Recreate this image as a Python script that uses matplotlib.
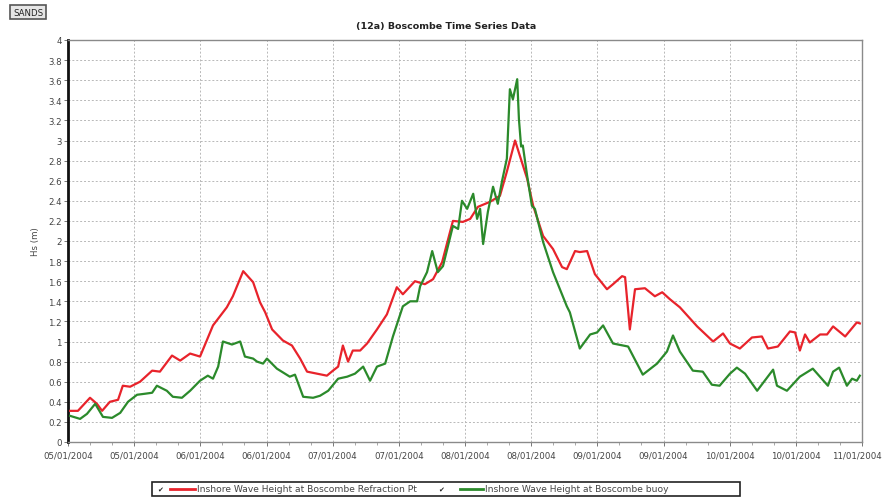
import matplotlib
matplotlib.use("Agg")
import matplotlib.pyplot as plt
import matplotlib.transforms as mtransforms
from matplotlib.lines import Line2D
from matplotlib.patches import Rectangle
from matplotlib.ticker import MultipleLocator, FixedLocator, FuncFormatter

# Days since 05/01/2004 and significant wave height (m)
refraction_days = [0.5, 2.3, 5.1, 6.7, 7.9, 9.7, 11.6, 12.7, 14.4, 16.7, 19.5, 21.3,
                   24.1, 26.0, 28.3, 30.6, 33.6, 36.8, 38.2, 40.6, 42.9, 44.5, 45.7,
                   47.3, 49.8, 51.9, 53.8, 55.4, 57.7, 60.0, 61.4, 62.6, 63.7, 64.9,
                   66.0, 67.7, 69.3, 71.6, 73.9, 76.2, 77.6, 80.4, 82.7, 84.6, 86.7,
                   89.2, 91.5, 93.2, 95.0, 97.8, 100.1, 101.7, 103.6, 104.7, 106.4,
                   107.8, 110.1, 112.4, 114.5, 115.6, 117.5, 118.6, 120.3, 122.1,
                   124.9, 126.3, 128.4, 129.1, 130.2, 131.4, 133.7, 136.0, 137.7,
                   139.5, 141.8, 145.8, 149.5, 151.8, 153.4, 155.7, 158.5, 160.8,
                   162.2, 164.5, 167.3, 168.5, 169.6, 170.8, 171.9, 174.3, 175.9,
                   177.3, 180.1, 182.8, 183.5]
refraction_hs = [0.31, 0.31, 0.44, 0.38, 0.31, 0.40, 0.42, 0.56, 0.55, 0.60, 0.71, 0.70,
                 0.86, 0.81, 0.88, 0.85, 1.16, 1.34, 1.45, 1.70, 1.59, 1.39, 1.29,
                 1.12, 1.01, 0.96, 0.83, 0.70, 0.68, 0.66, 0.71, 0.75, 0.96, 0.80,
                 0.91, 0.91, 0.98, 1.12, 1.27, 1.54, 1.47, 1.60, 1.57, 1.62, 1.79,
                 2.20, 2.19, 2.22, 2.34, 2.39, 2.45, 2.69, 3.00, 2.85, 2.62,
                 2.35, 2.05, 1.92, 1.74, 1.72, 1.90, 1.89, 1.90, 1.67,
                 1.52, 1.57, 1.65, 1.64, 1.12, 1.52, 1.53, 1.45, 1.49,
                 1.42, 1.34, 1.15, 1.00, 1.08, 0.98, 0.93, 1.04, 1.05,
                 0.93, 0.95, 1.10, 1.09, 0.91, 1.07, 0.99, 1.07, 1.07,
                 1.15, 1.05, 1.19, 1.18]

buoy_days = [0.5, 2.8, 4.4, 6.3, 8.1, 10.2, 12.1, 13.9, 16.0, 17.8, 19.5, 20.6, 22.9,
             24.3, 26.4, 28.3, 30.6, 32.4, 33.6, 34.8, 35.9, 38.0, 39.9, 41.0, 42.9,
             43.8, 45.2, 46.1, 48.4, 51.4, 52.6, 54.5, 56.8, 58.4, 60.3, 62.6, 64.7,
             66.5, 68.4, 70.0, 71.6, 73.5, 75.3, 77.6, 79.3, 80.9, 81.6, 83.2, 84.4,
             85.7, 86.9, 89.2, 90.4, 91.3, 92.5, 93.9, 94.8, 95.5, 96.2, 97.3, 98.5,
             99.6, 100.6, 101.7, 102.4, 103.1, 104.1, 104.5, 105.0, 105.4, 106.4,
             107.5, 108.2, 110.1, 112.4, 115.6, 116.3, 118.6, 121.0, 122.6, 124.0,
             126.3, 129.8, 133.2, 136.5, 138.8, 140.2, 141.8, 144.8, 147.1, 149.2,
             151.0, 153.4, 155.0, 156.9, 159.7, 163.4, 164.3, 166.6, 169.6, 172.6,
             176.1, 177.3, 178.7, 180.5, 181.7, 182.8, 183.5]
buoy_hs = [0.26, 0.23, 0.28, 0.38, 0.25, 0.24, 0.29, 0.40, 0.47, 0.48, 0.49, 0.56, 0.51,
           0.45, 0.44, 0.51, 0.61, 0.66, 0.63, 0.75, 1.00, 0.97, 1.00, 0.85, 0.83,
           0.80, 0.78, 0.83, 0.73, 0.65, 0.67, 0.45, 0.44, 0.46, 0.51, 0.63, 0.65,
           0.68, 0.75, 0.61, 0.75, 0.78, 1.05, 1.35, 1.40, 1.40, 1.55, 1.69, 1.90,
           1.69, 1.75, 2.15, 2.12, 2.40, 2.32, 2.47, 2.22, 2.32, 1.97, 2.29, 2.54,
           2.37, 2.60, 2.82, 3.51, 3.41, 3.61, 3.21, 2.94, 2.95, 2.65,
           2.35, 2.32, 1.99, 1.69, 1.35, 1.29, 0.93, 1.07, 1.09, 1.16,
           0.98, 0.95, 0.67, 0.78, 0.90, 1.06, 0.90, 0.71, 0.70, 0.57,
           0.56, 0.68, 0.74, 0.68, 0.51, 0.72, 0.56, 0.51, 0.65, 0.73,
           0.56, 0.70, 0.74, 0.56, 0.63, 0.61, 0.66]

tick_labels = ["05/01/2004", "05/01/2004", "06/01/2004", "06/01/2004", "07/01/2004",
               "07/01/2004", "08/01/2004", "08/01/2004", "09/01/2004", "09/01/2004",
               "10/01/2004", "10/01/2004", "11/01/2004"]
series_names = ["Inshore Wave Height at Boscombe Refraction Pt",
                "Inshore Wave Height at Boscombe buoy"]

TOTAL_DAYS = 184
RED = "#e8232b"
GREEN = "#2b8a2b"
TXT = "#444444"

plt.rcParams["font.family"] = ["DejaVu Sans"]

fig = plt.figure(figsize=(8.84, 5.02), dpi=100)
ax = fig.add_axes([68 / 884, 1 - 443 / 502, 794 / 884, 402 / 502])

ax.plot(refraction_days, refraction_hs, color=RED, lw=1.6, zorder=3)
ax.plot(buoy_days, buoy_hs, color=GREEN, lw=1.6, zorder=3)

ax.set_xlim(0, TOTAL_DAYS)
ax.set_ylim(0, 4)

step = TOTAL_DAYS / 12
ax.xaxis.set_major_locator(FixedLocator([i * step for i in range(13)]))
ax.xaxis.set_minor_locator(FixedLocator([i * step / 3 for i in range(37) if i % 3]))
ax.set_xticklabels(tick_labels)
ax.yaxis.set_major_locator(MultipleLocator(0.2))
ax.yaxis.set_major_formatter(FuncFormatter(lambda v, p: f"{round(v, 1):g}"))

ax.grid(True, which="major", color="#b8b8b8", linestyle=(0, (2, 2)), lw=0.7)
ax.tick_params(axis="both", which="major", labelsize=6.2, labelcolor=TXT,
               color="#777777", length=3, width=0.7)
ax.tick_params(axis="x", which="minor", color="#999999", length=2, width=0.6)
ax.tick_params(axis="x", pad=3)
ax.tick_params(axis="y", pad=1.5)

# keep the final date label inside the canvas
last = ax.get_xticklabels()[-1]
last.set_horizontalalignment("right")
last.set_transform(last.get_transform() +
                   mtransforms.ScaledTranslation(0.2, 0, fig.dpi_scale_trans))

for side in ("top", "right", "bottom"):
    ax.spines[side].set_color("#8a8a8a")
    ax.spines[side].set_linewidth(1.0)
ax.spines["left"].set_color("#111111")
ax.spines["left"].set_linewidth(2.0)

ax.set_ylabel("Hs (m)", fontsize=6.2, color=TXT, labelpad=6)

fig.text(446 / 884, 1 - 27 / 502, "(12a) Boscombe Time Series Data",
         ha="center", va="center", fontsize=6.8, color="#222222", fontweight="bold")

# "SANDS" badge
fig.text(28 / 884, 1 - 13 / 502, "SANDS", ha="center", va="center", fontsize=6.2,
         color="#222222",
         bbox=dict(boxstyle="square,pad=0.3", fc="#e6e6e6", ec="#555555", lw=1.2))

# Legend box with check marks
W, H = 884, 502
fig.patches.append(Rectangle((152 / W, 1 - 497 / H), 588 / W, 14 / H,
                             transform=fig.transFigure, fc="white", ec="#222222",
                             lw=1.2))
ly = 1 - 490 / H
for cx, x0, x1, tx, name, col in [(160, 170, 195, 197, series_names[0], RED),
                                  (441, 460, 483, 485, series_names[1], GREEN)]:
    fig.text(cx / W, ly, "\u2714", ha="center", va="center", fontsize=5,
             color="#222222")
    fig.lines.append(Line2D([x0 / W, x1 / W], [ly, ly], transform=fig.transFigure,
                            color=col, lw=2.0))
    fig.text(tx / W, ly, name, ha="left", va="center", fontsize=6.6, color=TXT)

fig.savefig("out.png", dpi=100)
